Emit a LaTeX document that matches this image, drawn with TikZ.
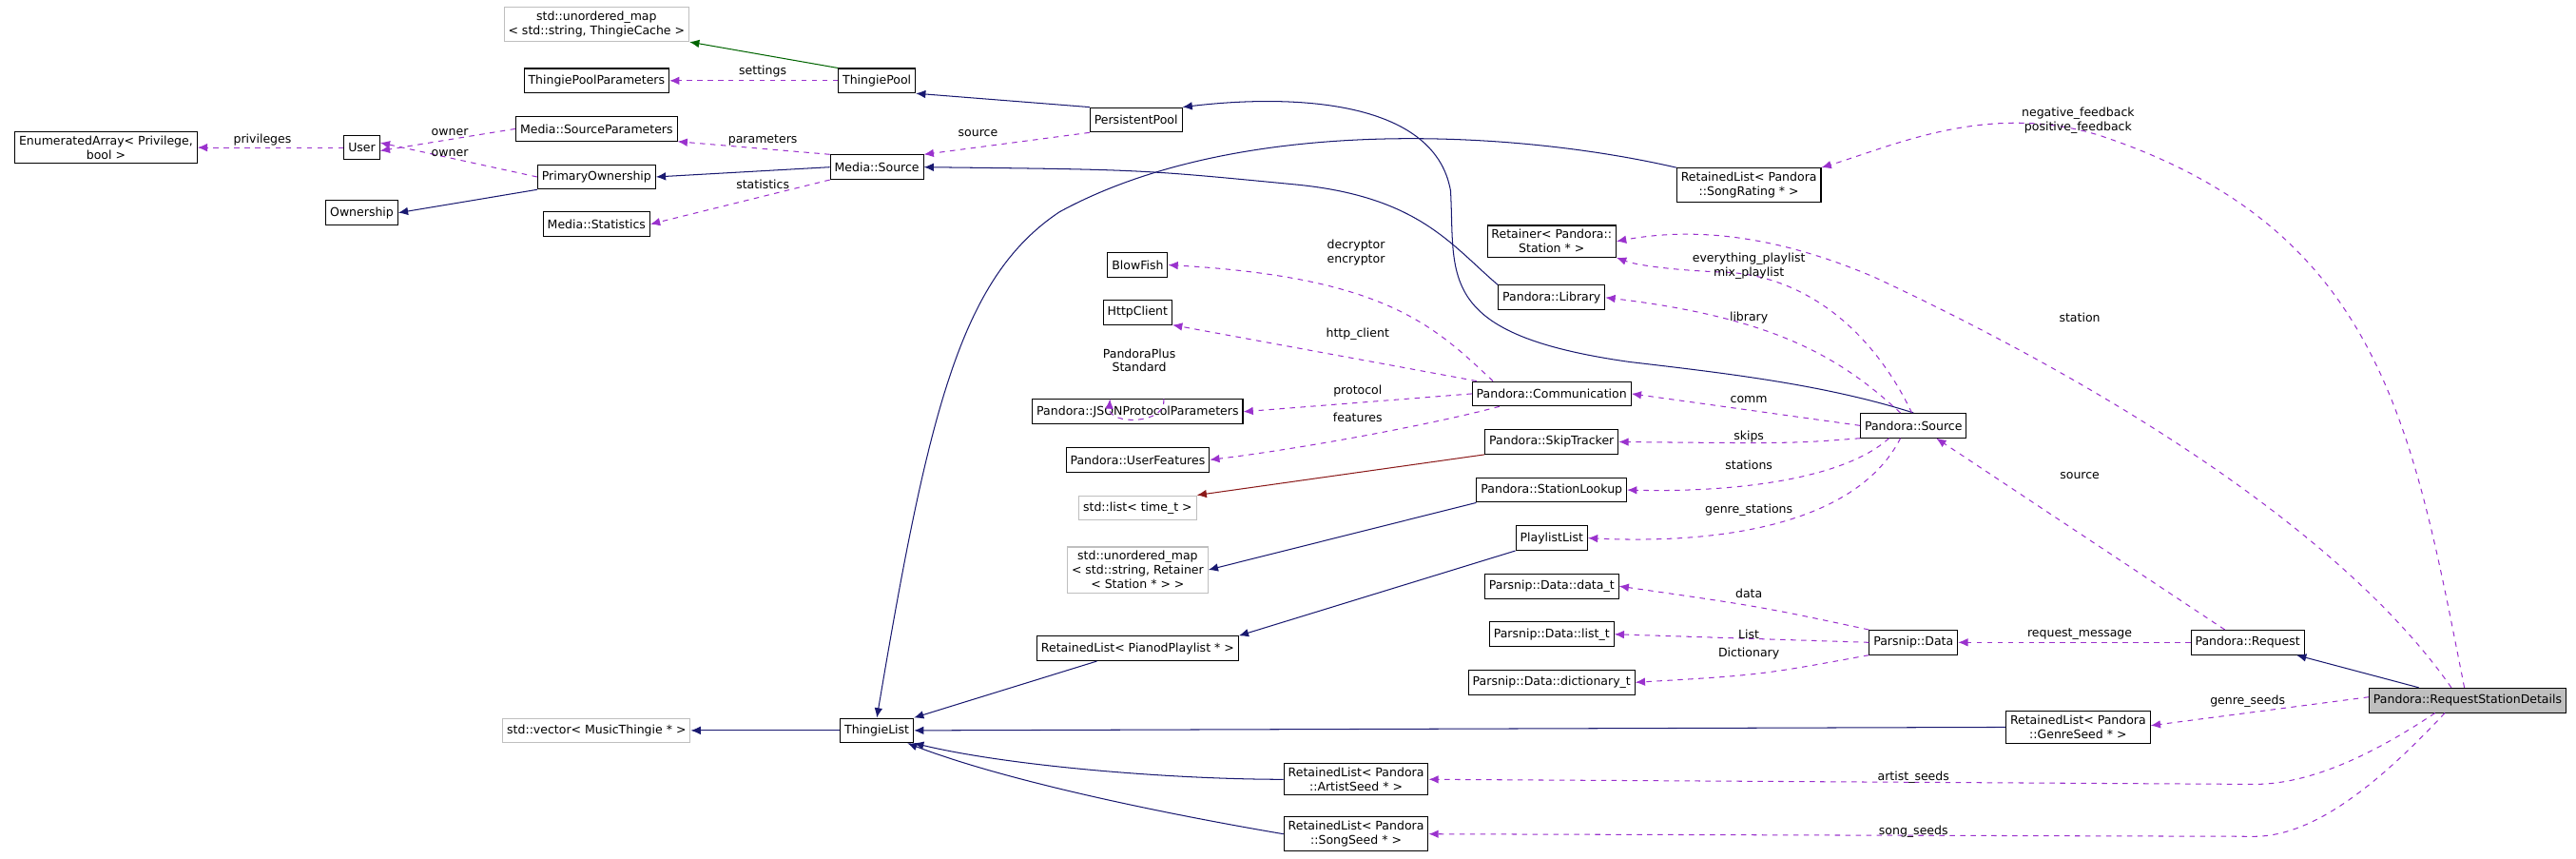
\documentclass[tikz,border=0pt]{standalone}
\usepackage{fontspec}
\setmainfont{DejaVu Sans}
\usetikzlibrary{arrows.meta}
\definecolor{nv}{HTML}{191970}
\definecolor{pp}{HTML}{9A32CD}
\definecolor{gr}{HTML}{006400}
\definecolor{dr}{HTML}{8B1A1A}
\definecolor{gb}{HTML}{BFBFBF}
\begin{document}
\begin{tikzpicture}[x=1pt,y=-1pt,
  every node/.style={font=\fontsize{7.3}{8.6}\selectfont},
  box/.style={draw=black,line width=0.6pt,inner sep=2.6pt,align=center,minimum height=15pt,fill=white},
  gbox/.style={box,draw=gb},
  lbl/.style={inner sep=0pt,align=center},
  inh/.style={draw=nv,line width=0.6pt,-{Latex[length=6pt,width=5pt]}},
  use/.style={draw=pp,line width=0.6pt,dash pattern=on 3.2pt off 3.2pt,-{Latex[length=6pt,width=5pt]}}]
\useasboundingbox (0,0) rectangle (1580.5,526.8);
% nodes
\node[gbox] (map1) at (366,15) {std::unordered\_map\\< std::string, ThingieCache >};
\node[box] (tpp) at (366,49.5) {ThingiePoolParameters};
\node[box] (tp) at (538,49.5) {ThingiePool};
\node[box] (pers) at (697,73.5) {PersistentPool};
\node[box] (msp) at (366,79) {Media::SourceParameters};
\node[box] (enum) at (65,90.5) {EnumeratedArray< Privilege,\\bool >};
\node[box] (user) at (222,90.5) {User};
\node[box] (prim) at (366,108.5) {PrimaryOwnership};
\node[box] (own) at (222,130.5) {Ownership};
\node[box] (mstat) at (366,137.5) {Media::Statistics};
\node[box] (msrc) at (538,102.5) {Media::Source};
\node[box] (blow) at (698,162.5) {BlowFish};
\node[box] (http) at (698,191.5) {HttpClient};
\node[box] (json) at (698,252.5) {Pandora::JSONProtocolParameters};
\node[box] (uf) at (698,282) {Pandora::UserFeatures};
\node[gbox] (lst) at (698,311.5) {std::list< time\_t >};
\node[gbox] (map2) at (698,349.5) {std::unordered\_map\\< std::string, Retainer\\< Station * > >};
\node[box] (pian) at (698,397.7) {RetainedList< PianodPlaylist * >};
\node[gbox] (vec) at (366,448) {std::vector< MusicThingie * >};
\node[box] (tl) at (538,448) {ThingieList};
\node[box] (art) at (832,478) {RetainedList< Pandora\\::ArtistSeed * >};
\node[box] (song) at (832,511.5) {RetainedList< Pandora\\::SongSeed * >};
\node[box] (ret) at (952,148) {Retainer< Pandora::\\Station * >};
\node[box] (lib) at (952,182.5) {Pandora::Library};
\node[box] (comm) at (952,241.5) {Pandora::Communication};
\node[box] (skip) at (952,271) {Pandora::SkipTracker};
\node[box] (look) at (952,300.5) {Pandora::StationLookup};
\node[box] (pl) at (952,330) {PlaylistList};
\node[box] (dt) at (952,359.5) {Parsnip::Data::data\_t};
\node[box] (lt) at (952,389) {Parsnip::Data::list\_t};
\node[box] (dict) at (952,418.5) {Parsnip::Data::dictionary\_t};
\node[box] (rate) at (1073,113.5) {RetainedList< Pandora\\::SongRating * >};
\node[box] (psrc) at (1174,261) {Pandora::Source};
\node[box] (pdata) at (1174,394) {Parsnip::Data};
\node[box] (req) at (1379,394) {Pandora::Request};
\node[box] (genre) at (1275,446) {RetainedList< Pandora\\::GenreSeed * >};
\node[box,fill=gb] (rsd) at (1514,429.5) {Pandora::RequestStationDetails};
% inheritance
\draw[gr,line width=0.6pt,-{Latex[length=6pt,width=5pt]}] (tp.north west) -- (map1.south east);
\draw[inh] (pers.north west) -- (tp.south east);
\draw[inh] (prim.south west) -- (own.east);
\draw[inh] (msrc.west) -- (prim.east);
\draw[inh] (lib.north west) .. controls (890,150) and (870,120) .. (793,113) .. controls (700,104) .. (msrc.east);
\draw[inh] (psrc.north) .. controls (1120,236) and (1060,229) .. (1000,222) .. controls (880,205) and (893,170) .. (890,117) .. controls (880,60) and (790,58) .. (pers.north east);
\draw[inh] (rate.north west) .. controls (930,80) and (760,70) .. (650,130) .. controls (590,170) and (570,250) .. (tl.north);
\draw[draw=dr,line width=0.6pt,-{Latex[length=6pt,width=5pt]}] (skip.south west) -- (lst.north east);
\draw[inh] (look.south west) -- (map2.east);
\draw[inh] (pl.south west) -- (pian.north east);
\draw[inh] ([xshift=-25pt]pian.south) -- (tl.north east);
\draw[inh] (tl.west) -- (vec.east);
\draw[inh] (genre.west) -- (tl.east);
\draw[inh] (art.west) .. controls (720,478) and (620,470) .. (tl.south east);
\draw[inh] (song.west) .. controls (720,500) and (620,480) .. ([xshift=-4pt]tl.south east);
\draw[inh] ([xshift=-30pt]rsd.north) -- ([xshift=30pt]req.south);
% usage
\draw[use] (tp.west) -- (tpp.east);
\node[lbl] (l1) at (468,44) {settings};
\draw[use] (pers.south west) -- (msrc.north east);
\node[lbl] (l2) at (600,82) {source};
\draw[use] (msrc.north west) -- (msp.south east);
\node[lbl] (l3) at (468,86) {parameters};
\draw[use] (msrc.south west) -- (mstat.east);
\node[lbl] (l4) at (468,113) {statistics};
\draw[use] (msp.west) -- ([yshift=-2pt]user.east);
\node[lbl] (l5) at (276,81) {owner};
\draw[use] (prim.west) -- ([yshift=3pt]user.east);
\node[lbl] (l6) at (276,94) {owner};
\draw[use] (user.west) -- (enum.east);
\node[lbl] (l7) at (161,86) {privileges};
\draw[use] ([xshift=16pt]json.north) .. controls ([xshift=18pt,yshift=-16pt]json.north) and ([xshift=-18pt,yshift=-16pt]json.north) .. ([xshift=-17pt]json.north);
\node[lbl] (l8) at (699,221) {PandoraPlus\\Standard};
\draw[use] ([xshift=-36pt]comm.north) .. controls (880,200) and (850,170) .. (blow.east);
\node[lbl] (l9) at (832,155) {decryptor\\encryptor};
\draw[use] ([xshift=-46pt]comm.north) -- (http.south east);
\node[lbl] (l10) at (833,205) {http\_client};
\draw[use] (comm.west) -- (json.east);
\node[lbl] (l11) at (833,240) {protocol};
\draw[use] ([xshift=-32pt]comm.south) .. controls (880,260) and (800,275) .. (uf.east);
\node[lbl] (l12) at (833,256) {features};
\draw[use] (psrc.west) -- (comm.east);
\node[lbl] (l13) at (1073,245) {comm};
\draw[use] ([xshift=-1pt]psrc.north) .. controls (1150,205) and (1110,170) .. (1060,167) .. controls (1030,166) and (1005,163) .. (ret.south east);
\node[lbl] (l14) at (1073,163) {everything\_playlist\\mix\_playlist};
\draw[use] ([xshift=-8pt]psrc.north) .. controls (1130,220) and (1090,195) .. (lib.east);
\node[lbl] (l15) at (1073,195) {library};
\draw[use] (psrc.south west) .. controls (1100,272) .. (skip.east);
\node[lbl] (l16) at (1073,268) {skips};
\draw[use] ([xshift=-15pt]psrc.south) .. controls (1130,295) and (1060,302) .. (look.east);
\node[lbl] (l17) at (1073,285) {stations};
\draw[use] ([xshift=-8pt]psrc.south) .. controls (1140,320) and (1060,334) .. (pl.east);
\node[lbl] (l18) at (1073,313) {genre\_stations};
\draw[use] (pdata.north west) .. controls (1080,372) .. (dt.east);
\node[lbl] (l19) at (1073,364) {data};
\draw[use] (pdata.west) -- (lt.east);
\node[lbl] (l20) at (1073,389) {List};
\draw[use] (pdata.south west) .. controls (1080,414) .. (dict.east);
\node[lbl] (l21) at (1073,401) {Dictionary};
\draw[use] (req.west) -- (pdata.east);
\node[lbl] (l22) at (1276,389) {request\_message};
\draw[use] ([xshift=-14pt]req.north) -- ([xshift=14pt]psrc.south);
\node[lbl] (l23) at (1276,292) {source};
\draw[use] ([xshift=-2pt]rsd.north) .. controls (1480,260) and (1460,140) .. (1288,83) .. controls (1220,62) and (1160,90) .. (rate.north east);
\node[lbl] (l24) at (1275,74) {negative\_feedback\\positive\_feedback};
\draw[use] ([xshift=-10pt]rsd.north) .. controls (1440,330) and (1300,240) .. (1150,170) .. controls (1080,140) and (1030,141) .. (ret.east);
\node[lbl] (l25) at (1276,195) {station};
\draw[use] ([yshift=2pt]rsd.west) -- ([yshift=1pt]genre.east);
\node[lbl] (l26) at (1379,430) {genre\_seeds};
\draw[use] ([xshift=-20pt]rsd.south) .. controls (1460,460) and (1420,481) .. (1383,481) -- (art.east);
\node[lbl] (l27) at (1174,477) {artist\_seeds};
\draw[use] ([xshift=-14pt]rsd.south) .. controls (1460,480) and (1420,513) .. (1383,513) -- (song.east);
\node[lbl] (l28) at (1174,510) {song\_seeds};
\end{tikzpicture}
\end{document}
